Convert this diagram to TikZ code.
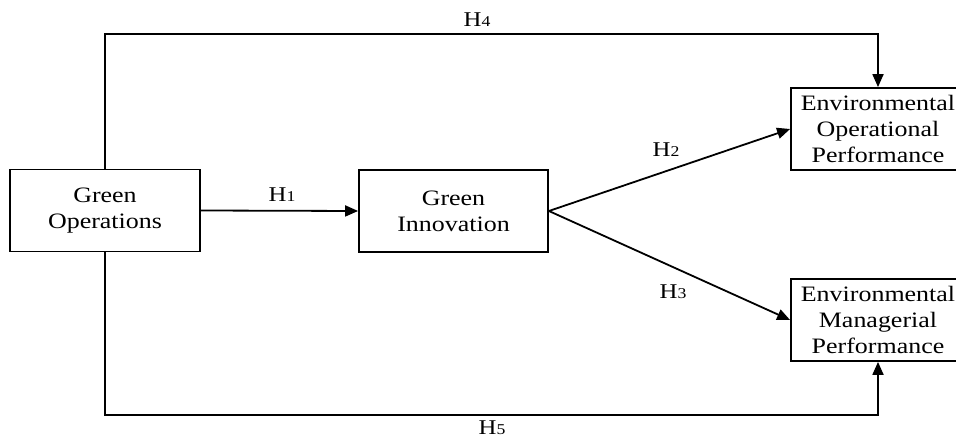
\documentclass[tikz,border=0pt]{standalone}
\usepackage{fontspec}
\setmainfont{Liberation Serif}[FakeStretch=1.18]
\usetikzlibrary{arrows.meta}
\newcommand\hnum[1]{{\fontsize{15}{17}\selectfont #1}}

\begin{document}
\begin{tikzpicture}[x=1pt,y=-1pt,
    box/.style={draw, line width=1.8pt, minimum width=190pt, minimum height=82pt,
      inner sep=0pt, align=center, font=\fontsize{22}{26}\selectfont},
    link/.style={line width=1.8pt, -{Triangle[length=13pt,width=11pt]}},
    hyp/.style={font=\fontsize{21}{23}\selectfont}]
        \useasboundingbox (0,0) rectangle (956,438);
        % Draw the boxes
        \node[box] (ops) at (105,210.5) {Green\\Operations};
        \node[box, minimum width=189pt] (inno) at (453.5,211) {Green\\Innovation};
        \node[box, minimum width=174pt] (eop) at (878,129) {Environmental\\Operational\\Performance};
        \node[box, minimum width=174pt] (emp) at (878,320) {Environmental\\Managerial\\Performance};
        % Draw arrows
        \coordinate (topline) at (0,34);
        \coordinate (botline) at (0,415);
        \draw[link] (ops.east) -- (inno.west);
        \draw[link] (inno.east) -- (eop.west);
        \draw[link] (inno.east) -- (emp.west);
        \draw[link] (ops.north) -- (ops.north |- topline) -| (eop.north);
        \draw[link] (ops.south) -- (ops.south |- botline) -| (emp.south);
        % Draw the labels
        \node[hyp] (h1) at (282,195) {H\hnum{1}};
        \node[hyp] (h2) at (666,150) {H\hnum{2}};
        \node[hyp] (h3) at (673,292) {H\hnum{3}};
        \node[hyp] (h4) at (477,20) {H\hnum{4}};
        \node[hyp] (h5) at (492,428) {H\hnum{5}};
\end{tikzpicture}
\end{document}
